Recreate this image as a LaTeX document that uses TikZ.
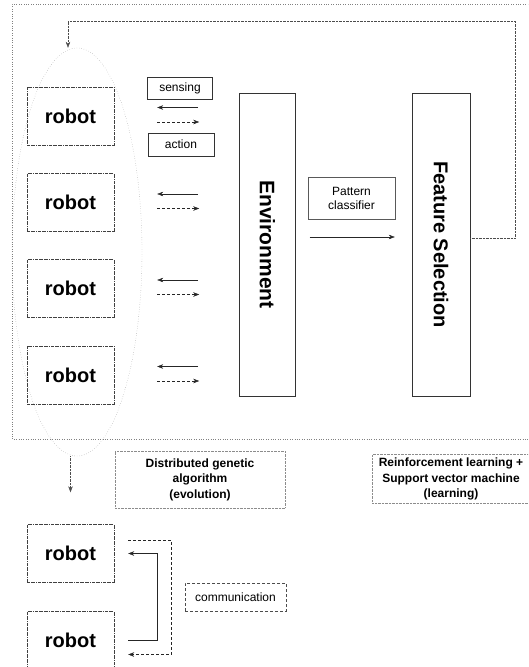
\documentclass[tikz,border=0pt]{standalone}
\usepackage{fontspec}
\setmainfont{Liberation Sans}
\usetikzlibrary{shapes.geometric, arrows.meta, calc}

\begin{document}
\begin{tikzpicture}[
    x=1pt, y=-1pt,
    robot/.style={rectangle, draw=black!75, densely dashdotted, minimum width=87pt, minimum height=58pt, font=\fontsize{20}{24}\selectfont\bfseries},
    tag/.style={rectangle, draw=black!80, thin, align=center, font=\fontsize{12}{14}\selectfont},
    column/.style={rectangle, draw=black!80, thin, minimum width=56pt, minimum height=303pt},
    note/.style={rectangle, draw=black!45, densely dotted, align=center, font=\fontsize{12}{15.5}\selectfont\bfseries},
    arrow/.style={->, >={Stealth[length=6pt, width=4.5pt]}, thin, black!85},
    back/.style={->, >={Stealth[length=6pt, width=4.5pt]}, densely dotted, black!70}
]
    \useasboundingbox (0,0) rectangle (528,667);
    \clip (0,0) rectangle (528,667);

    % outer frame of the learning loop
    \draw[black!50, dotted] (540,4) -- (12,4) -- (12,439) -- (540,439);

    \node[ellipse, draw=black!45, dotted, minimum width=130pt, minimum height=408pt] (swarm) at (77,252) {};
    \node[robot] (r1) at (70.5,116) {robot};
    \node[robot] (r2) at (70.5,202.5) {robot};
    \node[robot] (r3) at (70.5,288.5) {robot};
    \node[robot] (r4) at (70.5,375) {robot};

    \node[tag, minimum width=65pt, minimum height=22pt] (sensing) at (180,88) {sensing};
    \node[tag, minimum width=66pt, minimum height=23pt] (action) at (181,144.5) {action};

    \node[column, label={[rotate=-90, font=\fontsize{21}{25}\selectfont\bfseries]center:Environment}] (env) at (267.5,244.5) {};
    \node[column, minimum width=58pt, label={[rotate=-90, font=\fontsize{20}{24}\selectfont\bfseries]center:Feature Selection}] (feat) at (441,244.5) {};
    \node[tag, draw=black!65, minimum width=87pt, minimum height=42pt] (pattern) at (351.5,198) {Pattern\\classifier};

    \node[note, minimum width=170pt, minimum height=57pt] (dga) at (200,479.5) {Distributed genetic\\algorithm\\(evolution)};
    \node[note, minimum width=158pt, minimum height=48pt] (rlsvm) at (451,479) {Reinforcement learning +\\Support vector machine\\(learning)};

    \node[robot] (b1) at (70.5,553.5) {robot};
    \node[robot] (b2) at (70.5,640.5) {robot};
    \node[tag, draw=black!70, densely dashed, minimum width=101pt, minimum height=28pt] (comm) at (235.5,597) {communication};

    % sensing and action between robots and environment
    \foreach \i in {1,...,4} {
        \draw[arrow] ([shift={(84,-8.5)}]r\i.east) -- ([shift={(43,-8.5)}]r\i.east);
        \draw[arrow, densely dashed] ([shift={(43,6)}]r\i.east) -- ([shift={(85,6)}]r\i.east);
    }

    \draw[arrow] ([shift={(14,-7.5)}]env.east) -- ([shift={(-17,-7.5)}]feat.west);
    \draw[back] ([shift={(0,-6.5)}]feat.east) -- ++(45,0) -- ++(0,-217) -| ([xshift=-9]swarm.north);
    \draw[back] ([xshift=-6.5]swarm.south) -- ([yshift=32]b1.north);

    % communication between robots
    \draw[arrow] ([xshift=14]b2.east) -- ++(29,0) |- ([xshift=14]b1.east);
    \draw[arrow, densely dashed] ([shift={(14,-13.5)}]b1.east) -- ++(43,0) |- ([shift={(14,14)}]b2.east);
\end{tikzpicture}
\end{document}
